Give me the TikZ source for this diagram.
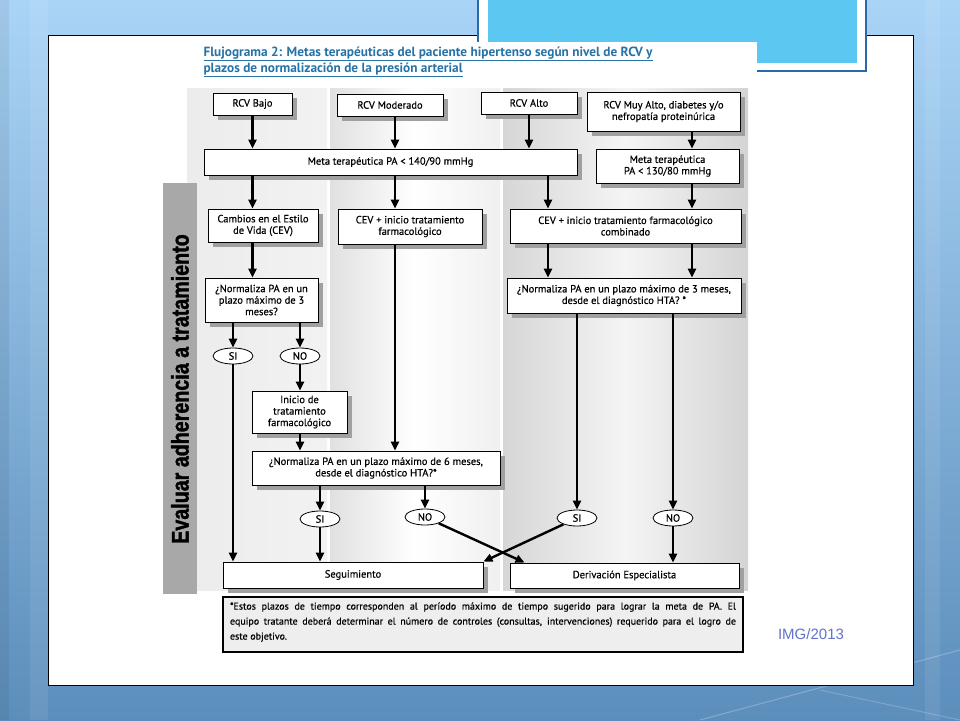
\documentclass[tikz,border=0pt]{standalone}
\usepackage{fontspec}
\setmainfont{PT Sans}
\newfontfamily\flowfont{PT Sans}[FakeBold=0.5]
\newfontfamily\arialfont{Liberation Sans}
\newfontfamily\bandfont{Liberation Sans}[BoldFeatures={FakeBold=1.6}]
\usetikzlibrary{arrows.meta,calc,shadows,shapes.geometric}
\definecolor{slidetop}{RGB}{170,212,246}
\definecolor{slidebot}{RGB}{92,142,188}
\definecolor{panelblue}{RGB}{92,200,242}
\definecolor{edgeblue}{RGB}{40,105,170}
\definecolor{titleblue}{RGB}{38,115,168}
\definecolor{stampblue}{RGB}{100,115,200}
\definecolor{shadowgray}{RGB}{160,160,160}
\definecolor{bandgray}{RGB}{168,168,168}
\newcommand{\flowsize}{\flowfont\fontsize{10.5}{11.5}\selectfont}

\begin{document}
\begin{tikzpicture}[x=1pt,y=-1pt,
		box/.style={draw, fill=white, line width=0.9pt, align=center, inner sep=1pt, text=black, font=\flowsize,
			drop shadow={shadow xshift=5pt, shadow yshift=-5pt, fill=shadowgray, opacity=1}},
		ans/.style={draw, fill=white, ellipse, line width=0.8pt, minimum width=40pt, minimum height=16pt, inner sep=0pt, font=\flowsize},
		arr/.style={line width=2.4pt, -{Triangle[length=9pt,width=8pt]}}]
	\useasboundingbox (0,0) rectangle (960,720);
	% slide
	\shade[top color=slidetop, bottom color=slidebot] (0,0) rectangle (960,720);
	\fill[black, opacity=0.06] (0,0) rectangle (9,720);
	\fill[white, opacity=0.08] (30,0) rectangle (48,720);
	\fill[white, opacity=0.08] (925,0) rectangle (940,720);
	\draw[white, opacity=0.25, line width=1pt] (700,720) -- (960,650);
	\draw[white, opacity=0.2, line width=1pt] (820,690) -- (960,720);
	\draw[fill=white, line width=0.8pt] (48,35) rectangle (913,685);
	\fill[edgeblue] (477,-5) rectangle (867,72);
	\fill[white] (479,-5) rectangle (865,70);
	\fill[panelblue] (488,-5) rectangle (857,63);
	\fill[white] (180,42) rectangle (757,660);
	\node[anchor=west, align=left, text=titleblue, font=\bfseries\fontsize{13.3}{16}\selectfont] (title) at (200,62)
		{\underline{Flujograma 2: Metas terapéuticas del paciente hipertenso según nivel de RCV y}\\
		\underline{plazos de normalización de la presión arterial}};
	\node[text=stampblue, font=\arialfont\fontsize{15}{18}\selectfont] (stamp) at (811,634) {IMG/2013};

	% columns
	\shade[left color=gray!15, right color=gray!10] (187,88) rectangle (327,590);
	\shade[left color=gray!24, right color=gray!12, middle color=white] (330,88) rectangle (500,590);
	\shade[left color=gray!32, right color=gray!34, middle color=gray!8] (503,88) rectangle (748,590);
	\fill[bandgray] (163,183) rectangle (197,594);
	\node[rotate=90, font=\bandfont\bfseries\fontsize{24}{28}\selectfont] (evaltxt) at (180,389)
		{\scalebox{0.82}[1]{Evaluar adherencia a tratamiento}};

	\coordinate (xmod) at (395,0);
	\coordinate (xcomb) at (548,0);
	\coordinate (xmuy) at (692,0);

	% boxes
	\node[box, minimum width=79pt, minimum height=22pt] (bajo) at (252.5,104) {RCV Bajo};
	\node[box, minimum width=106pt, minimum height=22pt] (moder) at (390,105) {RCV Moderado};
	\node[box, minimum width=96pt, minimum height=22pt] (alto) at (529,103) {RCV Alto};
	\node[box, minimum width=153pt, minimum height=39pt] (muyalto) at (663.5,111.5) {RCV Muy Alto, diabetes y/o\\nefropatía proteinúrica};
	\node[box, minimum width=373pt, minimum height=26pt] (meta1) at (390.5,162) {Meta terapéutica PA < 140/90 mmHg};
	\node[box, minimum width=143pt, minimum height=34pt] (meta2) at (667.5,166) {Meta terapéutica\\PA < 130/80 mmHg};
	\node[box, minimum width=110pt, minimum height=33pt] (cambios) at (263,225.5) {Cambios en el Estilo\\de Vida (CEV)};
	\node[box, minimum width=144pt, minimum height=35pt] (cevini) at (410,226.5) {CEV + inicio tratamiento\\farmacológico};
	\node[box, minimum width=231pt, minimum height=34pt] (cevcomb) at (625.5,226) {CEV + inicio tratamiento farmacológico\\combinado};
	\node[box, minimum width=113pt, minimum height=44pt] (norm3) at (261.5,300) {¿Normaliza PA en un\\plazo máximo de 3\\meses?};
	\node[box, minimum width=234pt, minimum height=35pt] (norm3b) at (624,295.5) {¿Normaliza PA en un plazo máximo de 3 meses,\\desde el diagnóstico HTA? *};
	\node[ans] (si1) at (233,356) {SI};
	\node[ans] (no1) at (300,356) {NO};
	\node[box, minimum width=95pt, minimum height=42pt] (inicio) at (299.5,412) {Inicio de\\tratamiento\\farmacológico};
	\node[box, minimum width=248pt, minimum height=34pt] (norm6) at (376,468) {¿Normaliza PA en un plazo máximo de 6 meses,\\desde el diagnóstico HTA?*};
	\node[ans] (si2) at (320,519) {SI};
	\node[ans] (no2) at (425,517) {NO};
	\node[ans] (si3) at (577,518) {SI};
	\node[ans] (no3) at (673,518) {NO};
	\node[box, minimum width=260pt, minimum height=26pt] (seg) at (353,575) {Seguimiento};
	\node[box, minimum width=229pt, minimum height=25pt] (deriv) at (624.5,575.5) {Derivación Especialista};
	\node[draw, fill=gray!13, line width=1.6pt, minimum width=520pt, minimum height=55pt] (nota) at (483,624.5) {};
	\node[anchor=north, text width=506pt, align=justify, inner sep=0pt, font=\flowfont\fontsize{10}{15}\selectfont] (notatxt) at ($(nota.north)+(0,6)$)
		{*Estos plazos de tiempo corresponden al período máximo de tiempo sugerido para lograr la meta de PA. El\linebreak
		equipo tratante deberá determinar el número de controles (consultas, intervenciones) requerido para el logro de\linebreak
		este objetivo.};

	% arrows
	\draw[arr] (bajo.south) -- (bajo.south |- meta1.north);
	\draw[arr] (moder.south -| xmod) -- (xmod |- meta1.north);
	\draw[arr] (alto.south) -- (alto.south |- meta1.north);
	\draw[arr] (muyalto.south -| xmuy) -- (xmuy |- meta2.north);
	\draw[arr] (meta1.south -| bajo) -- (bajo |- cambios.north);
	\draw[arr] (meta1.south -| xmod) -- (xmod |- cevini.north);
	\draw[arr] (meta1.south -| xcomb) -- (xcomb |- cevcomb.north);
	\draw[arr] (meta2.south -| xmuy) -- (xmuy |- cevcomb.north);
	\draw[arr] (cambios.south -| bajo) -- (bajo |- norm3.north);
	\draw[arr] (cevcomb.south -| xcomb) -- (xcomb |- norm3b.north);
	\draw[arr] (cevcomb.south -| xmuy) -- (xmuy |- norm3b.north);
	\draw[arr] (norm3.south -| si1) -- (si1);
	\draw[arr] (norm3.south -| no1) -- (no1);
	\draw[arr] (si1) -- (si1 |- seg.north);
	\draw[arr] (no1) -- (no1 |- inicio.north);
	\draw[arr] (inicio.south -| no1) -- (no1 |- norm6.north);
	\draw[arr] (cevini.south -| xmod) -- (xmod |- norm6.north);
	\draw[arr] (norm6.south -| si2) -- (si2);
	\draw[arr] (norm6.south -| no2) -- (no2);
	\draw[arr] (si2) -- (si2 |- seg.north);
	\draw[arr] (no2) -- ($(deriv.north west)+(15,0)$);
	\draw[arr] (norm3b.south -| si3) -- (si3);
	\draw[arr] (norm3b.south -| no3) -- (no3);
	\draw[arr] (si3) -- (seg.north east);
	\draw[arr] (no3) -- (no3 |- deriv.north);
\end{tikzpicture}
\end{document}
